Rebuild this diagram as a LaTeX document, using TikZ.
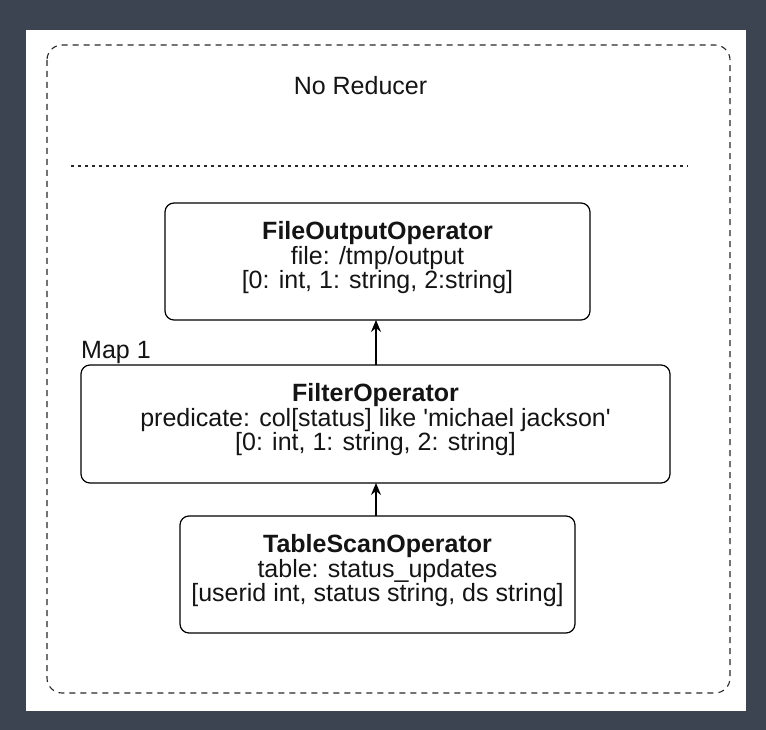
\documentclass[tikz,border=0pt]{standalone}
\usepackage{fontspec}
\setmainfont{Liberation Sans}
\usetikzlibrary{arrows.meta}
\begin{document}
\begin{tikzpicture}[x=1pt,y=-1pt,
  opbox/.style={draw=black,line width=1.2pt,rounded corners=9pt,fill=white},
  optext/.style={align=center,font=\fontsize{25}{24.5}\selectfont,text={rgb,255:red,20;green,20;blue,20}},
  conn/.style={-{Stealth[length=12pt,width=10pt,inset=4pt]},line width=1.2pt}]
\fill[fill={rgb,255:red,60;green,68;blue,82}] (0,0) rectangle (766,730);
\useasboundingbox (0,0) rectangle (766,730);
\fill[white] (26,30) rectangle (746,711);
\draw[dash pattern=on 6pt off 5pt,line width=1.1pt,draw={rgb,255:red,40;green,40;blue,40},rounded corners=15pt] (47,45) rectangle (730,693);
\draw[dash pattern=on 3pt off 4pt,line width=1.1pt,draw={rgb,255:red,40;green,40;blue,40}] (71,166) -- (688,166);
\node[optext,anchor=center] (title) at (360.5,86) {No Reducer};
\draw[opbox] (165,203) rectangle (590,320);
\node[optext] (fo) at (377.5,258) {\textbf{FileOutputOperator}\\file: /tmp/output\\{}[0: int, 1: string, 2:string]};
\coordinate (foB) at (376,320);
\draw[opbox] (81,365) rectangle (670,483);
\node[optext] (fi) at (375.5,420) {\textbf{FilterOperator}\\predicate: col[status] like \textquotesingle michael jackson\textquotesingle\\{}[0: int, 1: string, 2: string]};
\coordinate (fiT) at (376,365);
\coordinate (fiB) at (376,483);
\node[optext,anchor=base west,inner sep=0pt] (map) at (81,358) {Map 1};
\draw[opbox] (180,516) rectangle (575,633);
\node[optext] (ts) at (377.5,571) {\textbf{TableScanOperator}\\table: status\_updates\\{}[userid int, status string, ds string]};
\coordinate (tsT) at (376,516);
\draw[conn] (fiT) -- (foB);
\draw[conn] (tsT) -- (fiB);
\end{tikzpicture}
\end{document}
